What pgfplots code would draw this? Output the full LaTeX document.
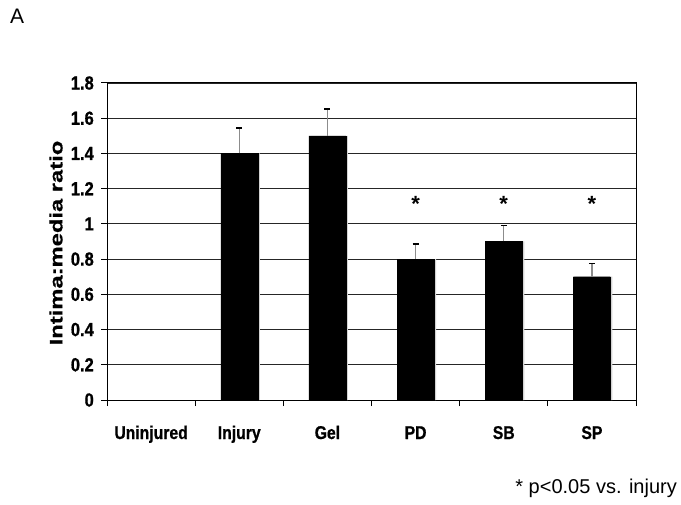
\documentclass[border=0pt]{standalone}
\usepackage{pgfplots}
\pgfplotsset{compat=1.18}
\usepackage{fontspec}
\setmainfont{Liberation Sans}
\newfontfamily\narrowfont{Liberation Sans}[FakeStretch=0.85, FakeBold=0.8]
\newfontfamily\ytickfont{Liberation Sans}[FakeStretch=0.87, FakeBold=0.8]
\newfontfamily\ylabfont{Liberation Sans}[FakeStretch=1.32, FakeBold=0.6]

\begin{document}
\begin{tikzpicture}
\useasboundingbox (0,0) rectangle (681bp,505bp);
\begin{axis}[
  at={(107bp,105bp)}, anchor=south west,
  scale only axis, width=529bp, height=317bp,
  xmin=-0.5, xmax=5.5, ymin=0, ymax=1.8,
  axis line style={black, line width=1bp},
  tick align=outside, tick pos=left,
  xtick={0,1,2,3,4,5},
  xticklabels={Uninjured,Injury,Gel,PD,SB,SP},
  major x tick style={draw=none},
  minor xtick={-0.5,0.5,1.5,2.5,3.5,4.5,5.5},
  minor x tick style={black, line width=1bp},
  minor tick length=6bp,
  major tick length=6bp,
  ytick={0,0.2,0.4,0.6,0.8,1,1.2,1.4,1.6,1.8},
  yticklabels={0,0.2,0.4,0.6,0.8,1,1.2,1.4,1.6,1.8},
  y tick style={black, line width=1bp},
  ymajorgrids,
  major grid style={black!85, line width=0.9bp},
  /pgf/number format/assume math mode=true,
  xticklabel style={font=\narrowfont\bfseries\fontsize{18.5bp}{20bp}\selectfont, anchor=base, inner sep=0pt, yshift=-33bp},
  yticklabel style={font=\ytickfont\bfseries\fontsize{19bp}{20bp}\selectfont, anchor=east, inner sep=0pt, xshift=-7bp},
  clip=false,
]
\addplot[ybar, bar width=37bp, bar shift=2bp, fill=gray!35, draw=none]
  coordinates {(1,1.4) (2,1.5) (3,0.8) (4,0.9) (5,0.7)};
\addplot[ybar, bar width=37bp, bar shift=0pt, fill=black, draw=black,
  error bars/.cd, y dir=plus, y explicit,
  error bar style={draw=gray!90, line width=1.3bp},
  error mark options={draw=black, line width=1.6bp, mark size=3bp, rotate=90}]
  coordinates {(1,1.4) +- (0,0.146) (2,1.5) +- (0,0.152)
               (3,0.8) +- (0,0.086) (4,0.9) +- (0,0.09) (5,0.7) +- (0,0.074)};
\addplot[ybar, bar width=37bp, bar shift=0pt, fill=black, draw=none, forget plot]
  coordinates {(0,0)};
\node[font=\bfseries\fontsize{22bp}{22bp}\selectfont, anchor=base] at (axis cs:3,1.07) {*};
\node[font=\bfseries\fontsize{22bp}{22bp}\selectfont, anchor=base] at (axis cs:4,1.07) {*};
\node[font=\bfseries\fontsize{22bp}{22bp}\selectfont, anchor=base] at (axis cs:5,1.07) {*};
\end{axis}
\node[rotate=90, font=\ylabfont\bfseries\fontsize{18bp}{20bp}\selectfont, inner sep=0pt] at (56bp,262bp) {Intima:media ratio};
\node[anchor=base west, font=\fontsize{21bp}{22bp}\selectfont, inner sep=0pt] at (10bp,481bp) {A};
\node[anchor=base east, font=\fontsize{20bp}{22bp}\selectfont, inner sep=0pt] at (677bp,12bp) {* p<0.05 vs. injury};
\end{tikzpicture}
\end{document}
